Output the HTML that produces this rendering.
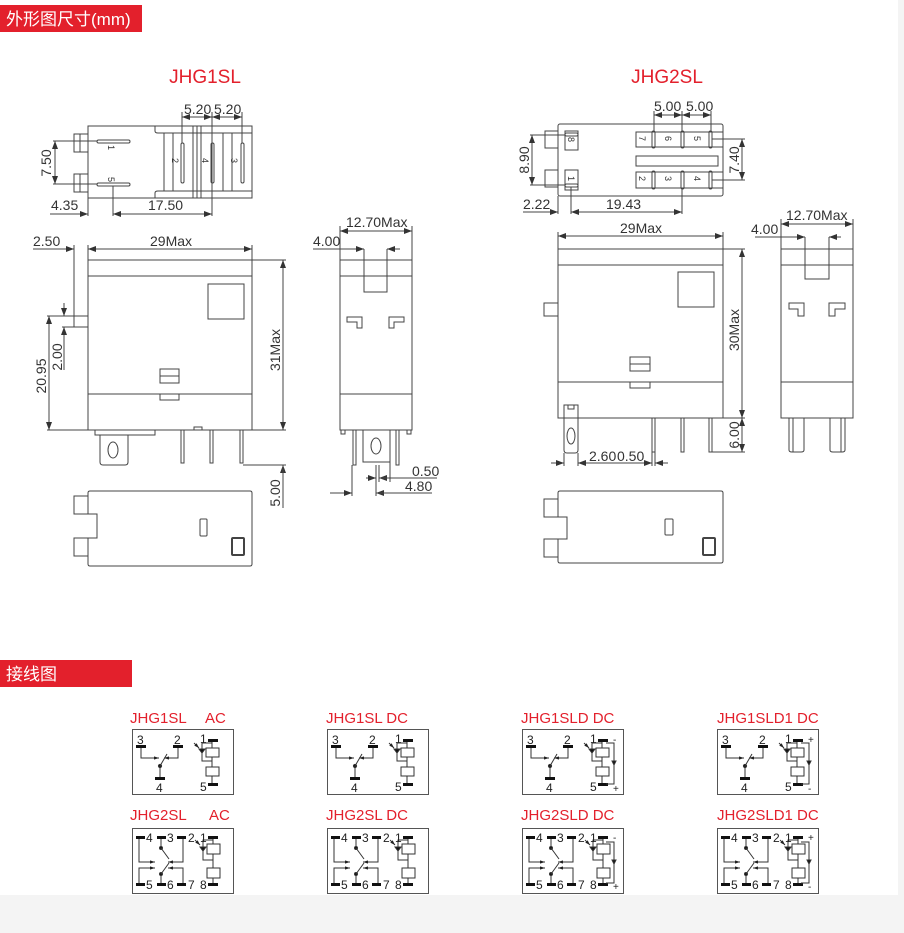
<!DOCTYPE html>
<html><head><meta charset="utf-8"><style>
html,body{margin:0;padding:0;background:#fff;}
body{width:904px;height:933px;overflow:hidden;position:relative;font-family:"Liberation Sans","Noto Sans CJK SC",sans-serif;}
svg{position:absolute;left:0;top:0;}
</style></head><body>
<svg width="904" height="933" viewBox="0 0 904 933" xmlns="http://www.w3.org/2000/svg" font-family="Liberation Sans, Noto Sans CJK SC, sans-serif">
<defs>
<marker id="ar" viewBox="0 0 8 6" refX="8" refY="3" markerWidth="8" markerHeight="6" markerUnits="userSpaceOnUse" orient="auto-start-reverse"><path d="M0,0 L8,3 L0,6 z" fill="#333"/></marker>
<marker id="sa" viewBox="0 0 6 4" refX="6" refY="2" markerWidth="5" markerHeight="4" markerUnits="userSpaceOnUse" orient="auto"><path d="M0,0 L6,2 L0,4 z" fill="#222"/></marker>
<g id="sw1" stroke="#333" stroke-width="1" fill="none">
 <rect x="0.5" y="0.5" width="101" height="65" stroke="#555"/>
 <rect x="4" y="16" width="10" height="3" fill="#111" stroke="none"/>
 <polyline points="9,19 9,29 27,29" marker-end="url(#sa)"/>
 <rect x="41" y="16" width="10" height="3" fill="#111" stroke="none"/>
 <polyline points="46,19 46,29 32,29" marker-end="url(#sa)"/>
 <circle cx="28" cy="37" r="1.6" fill="#111"/>
 <line x1="28" y1="37" x2="35" y2="25"/>
 <line x1="28" y1="37" x2="28" y2="48"/>
 <rect x="23" y="48" width="10" height="3" fill="#111" stroke="none"/>
 <line x1="80" y1="12" x2="80" y2="56"/>
 <rect x="74" y="19" width="13" height="9" fill="#fff"/>
 <rect x="74" y="38" width="13" height="9" fill="#fff"/>
 <rect x="76" y="10" width="10" height="3" fill="#111" stroke="none"/>
 <rect x="76" y="54" width="10" height="3" fill="#111" stroke="none"/>
 <polyline points="80,14 70,14 70,32 80,32"/>
 <path d="M67,20 L73,20 L70,24 z" fill="#111"/>
 <line x1="62" y1="14" x2="67" y2="19" marker-end="url(#sa)"/>
</g>
<g id="sw2" stroke="#333" stroke-width="1" fill="none">
 <rect x="0.5" y="0.5" width="101" height="65" stroke="#555"/>
 <rect x="4" y="8" width="9" height="3" fill="#111" stroke="none"/>
 <rect x="25" y="8" width="9" height="3" fill="#111" stroke="none"/>
 <rect x="45" y="8" width="9" height="3" fill="#111" stroke="none"/>
 <rect x="4" y="55" width="9" height="3" fill="#111" stroke="none"/>
 <rect x="25" y="55" width="9" height="3" fill="#111" stroke="none"/>
 <rect x="45" y="55" width="9" height="3" fill="#111" stroke="none"/>
 <polyline points="7,11 7,34 23,34" marker-end="url(#sa)"/>
 <line x1="29" y1="11" x2="29" y2="20"/><circle cx="29" cy="20" r="1.5" fill="#111"/>
 <line x1="29" y1="20" x2="37" y2="31"/>
 <polyline points="51,11 51,34 36,34" marker-end="url(#sa)"/>
 <polyline points="7,55 7,40 23,40" marker-end="url(#sa)"/>
 <line x1="29" y1="55" x2="29" y2="46"/><circle cx="29" cy="46" r="1.5" fill="#111"/>
 <line x1="29" y1="46" x2="37" y2="35"/>
 <polyline points="51,55 51,40 36,40" marker-end="url(#sa)"/>
 <line x1="81" y1="10" x2="81" y2="57"/>
 <rect x="75" y="16" width="13" height="10" fill="#fff"/>
 <rect x="75" y="40" width="13" height="10" fill="#fff"/>
 <rect x="76" y="8" width="10" height="3" fill="#111" stroke="none"/>
 <rect x="76" y="55" width="10" height="3" fill="#111" stroke="none"/>
 <polyline points="81,12 71,12 71,32 81,32"/>
 <path d="M68,19 L74,19 L71,23 z" fill="#111"/>
 <line x1="63" y1="12" x2="68" y2="17" marker-end="url(#sa)"/>
</g>
<g id="dio" stroke="#333" stroke-width="1" fill="none">
 <polyline points="84,14 92,14 92,55 84,55"/>
 <path d="M90,32 L94,32 L92,36 z" fill="#111"/>
</g>
</defs>

<rect x="0" y="895" width="904" height="38" fill="#f4f4f4"/>
<rect x="898" y="0" width="6" height="933" fill="#f4f4f4"/>

<rect x="0" y="5" width="142" height="27" fill="#e3202c"/>
<text x="6" y="25" font-size="17" fill="#fff">外形图尺寸(mm)</text>
<rect x="0" y="660" width="132" height="27" fill="#e3202c"/>
<text x="6" y="680" font-size="17" fill="#fff">接线图</text>

<g font-size="19" fill="#e3202c" text-anchor="middle">
<text x="205" y="83">JHG1SL</text>
<text x="667" y="83">JHG2SL</text>
</g>

<g stroke="#444" stroke-width="1" fill="none">
<path d="M88,126 H252 V198 H88 Z"/>
<rect x="74" y="134" width="14" height="18"/><rect x="74" y="174" width="14" height="18"/>
<line x1="80" y1="134" x2="80" y2="152"/><line x1="80" y1="174" x2="80" y2="192"/>
<path d="M155,126 V131 Q155,133 158,133 H252"/><path d="M155,198 V193 Q155,191 158,191 H252"/>
<line x1="164" y1="133" x2="164" y2="191"/><line x1="173" y1="133" x2="173" y2="191"/>
<line x1="193" y1="126" x2="193" y2="198"/><line x1="197" y1="126" x2="197" y2="198"/><line x1="201" y1="126" x2="201" y2="198"/>
<line x1="223" y1="133" x2="223" y2="191"/><line x1="232" y1="133" x2="232" y2="191"/>
<rect x="97" y="140" width="33" height="3" rx="1.5"/><rect x="97" y="183" width="33" height="3" rx="1.5"/>
<rect x="181" y="143" width="3" height="40" rx="1.5"/><rect x="211" y="143" width="3" height="40" rx="1.5"/><rect x="241" y="143" width="3" height="40" rx="1.5"/>
<line x1="182" y1="112" x2="182" y2="143"/><line x1="212" y1="112" x2="212" y2="216"/><line x1="242" y1="112" x2="242" y2="143"/>
<line x1="182" y1="117" x2="212" y2="117" marker-start="url(#ar)" marker-end="url(#ar)"/>
<line x1="212" y1="117" x2="242" y2="117" marker-start="url(#ar)" marker-end="url(#ar)"/>
<line x1="53" y1="141" x2="97" y2="141"/><line x1="53" y1="184" x2="97" y2="184"/>
<line x1="55" y1="141" x2="55" y2="184" marker-start="url(#ar)" marker-end="url(#ar)"/>
<line x1="88" y1="198" x2="88" y2="216"/><line x1="113" y1="186" x2="113" y2="216"/>
<line x1="50" y1="214" x2="88" y2="214" marker-end="url(#ar)"/>
<line x1="113" y1="214" x2="212" y2="214" marker-start="url(#ar)" marker-end="url(#ar)"/>

<line x1="33" y1="249" x2="74" y2="249" marker-end="url(#ar)"/>
<line x1="74" y1="245" x2="74" y2="316"/><line x1="88" y1="245" x2="88" y2="260"/><line x1="252" y1="245" x2="252" y2="260"/>
<line x1="88" y1="249" x2="252" y2="249" marker-start="url(#ar)" marker-end="url(#ar)"/>
<rect x="88" y="260" width="164" height="170"/>
<line x1="88" y1="276" x2="252" y2="276"/><line x1="88" y1="394" x2="252" y2="394"/>
<rect x="208" y="284" width="36" height="35"/>
<rect x="160" y="369" width="19" height="14"/><line x1="160" y1="376" x2="179" y2="376"/>
<rect x="160" y="394" width="19" height="6"/>
<rect x="74" y="316" width="14" height="11"/>
<path d="M95,430 V435 H155 V430"/>
<path d="M100,435 V462 Q100,465 103,465 H125 Q128,465 128,462 V435"/>
<ellipse cx="113" cy="450" rx="5" ry="8"/>
<path d="M194,430 V427 H202 V430"/>
<rect x="181" y="430" width="3" height="33"/><rect x="210" y="430" width="3" height="33"/><rect x="240" y="430" width="3" height="33"/>
<line x1="252" y1="260" x2="286" y2="260"/><line x1="252" y1="430" x2="286" y2="430"/><line x1="243" y1="465" x2="286" y2="465"/>
<line x1="283" y1="260" x2="283" y2="430" marker-start="url(#ar)" marker-end="url(#ar)"/>
<line x1="283" y1="480" x2="283" y2="465" marker-end="url(#ar)"/>
<line x1="283" y1="465" x2="283" y2="508"/>
<line x1="47" y1="316" x2="74" y2="316"/><line x1="47" y1="430" x2="88" y2="430"/>
<line x1="49" y1="316" x2="49" y2="430" marker-start="url(#ar)" marker-end="url(#ar)"/>
<line x1="62" y1="316" x2="74" y2="316"/><line x1="62" y1="327" x2="74" y2="327"/>
<line x1="64" y1="303" x2="64" y2="316" marker-end="url(#ar)"/>
<line x1="64" y1="370" x2="64" y2="327" marker-end="url(#ar)"/>

<path d="M90,491 H250 Q252,491 252,493 V564 Q252,566 250,566 H90 Q88,566 88,564 V538 H97 V514 H88 V493 Q88,491 90,491 Z"/>
<path d="M88,496 H74 V514 H88"/><path d="M88,538 H74 V556 H88"/>
<rect x="200" y="519" width="7" height="17" rx="1"/>
<rect x="232" y="538" width="12" height="17" rx="1" stroke-width="2"/>

<line x1="340" y1="226" x2="340" y2="260"/><line x1="412" y1="226" x2="412" y2="260"/>
<line x1="340" y1="231" x2="412" y2="231" marker-start="url(#ar)" marker-end="url(#ar)"/>
<line x1="313" y1="249" x2="364" y2="249" marker-end="url(#ar)"/>
<line x1="400" y1="249" x2="387" y2="249" marker-end="url(#ar)"/>
<rect x="340" y="260" width="72" height="170"/>
<line x1="340" y1="276" x2="412" y2="276"/><line x1="340" y1="394" x2="412" y2="394"/>
<path d="M364,249 V292 H387 V249"/>
<path d="M347,317 H362 V328 H357 V322 H347 Z"/><path d="M389,317 H404 V322 H394 V328 H389 Z"/>
<path d="M341,430 V434 H345 V430"/><path d="M407,430 V434 H411 V430"/>
<rect x="353" y="430" width="3" height="35"/><rect x="396" y="430" width="3" height="35"/>
<path d="M363,430 V462 H390 V430"/><ellipse cx="376" cy="446" rx="5" ry="8"/>
<line x1="352" y1="465" x2="352" y2="496"/><line x1="376" y1="465" x2="376" y2="496"/><line x1="379" y1="465" x2="379" y2="482"/><line x1="390" y1="462" x2="390" y2="482"/>
<line x1="366" y1="478" x2="376" y2="478" marker-end="url(#ar)"/><line x1="389" y1="478" x2="379" y2="478" marker-end="url(#ar)"/><line x1="379" y1="478" x2="437" y2="478"/>
<line x1="330" y1="493" x2="352" y2="493" marker-end="url(#ar)"/><line x1="390" y1="493" x2="376" y2="493" marker-end="url(#ar)"/><line x1="376" y1="493" x2="432" y2="493"/>

<rect x="558" y="124" width="165" height="72" rx="2"/>
<rect x="545" y="131" width="13" height="17"/><rect x="545" y="170" width="13" height="17"/>
<rect x="565" y="131" width="13" height="19"/><rect x="565" y="170" width="13" height="20"/>
<rect x="565" y="133" width="13" height="3" rx="1.5"/><rect x="565" y="184" width="13" height="3" rx="1.5"/>
<rect x="636" y="132" width="87" height="15"/><rect x="636" y="172" width="87" height="16"/>
<rect x="636" y="156" width="82" height="10"/>
<rect x="652" y="131" width="3" height="17" rx="1.5"/><rect x="681" y="131" width="3" height="17" rx="1.5"/><rect x="709" y="131" width="3" height="17" rx="1.5"/>
<rect x="652" y="171" width="3" height="18" rx="1.5"/><rect x="681" y="171" width="3" height="18" rx="1.5"/><rect x="709" y="171" width="3" height="18" rx="1.5"/>
<line x1="654" y1="111" x2="654" y2="131"/><line x1="682" y1="111" x2="682" y2="131"/><line x1="711" y1="111" x2="711" y2="131"/>
<line x1="654" y1="115" x2="682" y2="115" marker-start="url(#ar)" marker-end="url(#ar)"/>
<line x1="682" y1="115" x2="711" y2="115" marker-start="url(#ar)" marker-end="url(#ar)"/>
<line x1="530" y1="135" x2="565" y2="135"/><line x1="530" y1="185" x2="565" y2="185"/>
<line x1="532" y1="135" x2="532" y2="185" marker-start="url(#ar)" marker-end="url(#ar)"/>
<line x1="712" y1="139" x2="745" y2="139"/><line x1="712" y1="180" x2="745" y2="180"/>
<line x1="742" y1="139" x2="742" y2="180" marker-start="url(#ar)" marker-end="url(#ar)"/>
<line x1="558" y1="196" x2="558" y2="214"/><line x1="571" y1="187" x2="571" y2="214"/><line x1="682" y1="189" x2="682" y2="214"/>
<line x1="523" y1="212" x2="558" y2="212" marker-end="url(#ar)"/>
<line x1="571" y1="212" x2="682" y2="212" marker-start="url(#ar)" marker-end="url(#ar)"/>

<line x1="558" y1="232" x2="558" y2="249"/><line x1="723" y1="232" x2="723" y2="249"/>
<line x1="558" y1="236" x2="723" y2="236" marker-start="url(#ar)" marker-end="url(#ar)"/>
<rect x="558" y="249" width="165" height="169"/>
<line x1="558" y1="265" x2="723" y2="265"/><line x1="558" y1="382" x2="723" y2="382"/>
<rect x="678" y="272" width="36" height="35"/>
<rect x="630" y="357" width="20" height="14"/><line x1="630" y1="364" x2="650" y2="364"/>
<rect x="630" y="382" width="20" height="6"/>
<rect x="544" y="303" width="14" height="13"/>
<path d="M564,418 V405 H578 V418"/><rect x="568" y="405" width="6" height="4"/>
<path d="M564,418 V450 Q564,453 567,453 H575 Q578,453 578,450 V418"/>
<ellipse cx="571" cy="436" rx="4" ry="8"/>
<rect x="652" y="418" width="3" height="34"/><rect x="681" y="418" width="3" height="34"/><rect x="709" y="418" width="3" height="34"/>
<line x1="723" y1="249" x2="745" y2="249"/><line x1="723" y1="418" x2="745" y2="418"/><line x1="711" y1="452" x2="745" y2="452"/>
<line x1="742" y1="249" x2="742" y2="418" marker-start="url(#ar)" marker-end="url(#ar)"/>
<line x1="742" y1="418" x2="742" y2="452" marker-start="url(#ar)" marker-end="url(#ar)"/>
<line x1="564" y1="453" x2="564" y2="466"/><line x1="578" y1="453" x2="578" y2="466"/><line x1="652" y1="452" x2="652" y2="466"/><line x1="655" y1="452" x2="655" y2="466"/>
<line x1="551" y1="463" x2="564" y2="463" marker-end="url(#ar)"/>
<line x1="578" y1="463" x2="652" y2="463" marker-start="url(#ar)" marker-end="url(#ar)"/>
<line x1="668" y1="463" x2="655" y2="463" marker-end="url(#ar)"/>

<path d="M560,491 H721 Q723,491 723,493 V561 Q723,563 721,563 H560 Q558,563 558,561 V539 H567 V517 H558 V493 Q558,491 560,491 Z"/>
<path d="M558,499 H544 V517 H558"/><path d="M558,539 H544 V557 H558"/>
<rect x="665" y="519" width="8" height="16" rx="1"/>
<rect x="703" y="538" width="12" height="17" rx="1" stroke-width="2"/>

<line x1="781" y1="219" x2="781" y2="249"/><line x1="853" y1="219" x2="853" y2="249"/>
<line x1="781" y1="224" x2="853" y2="224" marker-start="url(#ar)" marker-end="url(#ar)"/>
<line x1="755" y1="237" x2="805" y2="237" marker-end="url(#ar)"/>
<line x1="841" y1="237" x2="829" y2="237" marker-end="url(#ar)"/>
<rect x="781" y="249" width="72" height="169"/>
<line x1="781" y1="265" x2="853" y2="265"/><line x1="781" y1="382" x2="853" y2="382"/>
<path d="M805,237 V279 H829 V237"/>
<path d="M789,303 H804 V316 H798 V309 H789 Z"/><path d="M829,303 H845 V309 H835 V316 H829 Z"/>
<path d="M789,418 V450 Q789,452 792,452 H801 Q804,452 804,450 V418"/><line x1="793" y1="418" x2="793" y2="452"/>
<path d="M830,418 V450 Q830,452 833,452 H842 Q845,452 845,450 V418"/><line x1="841" y1="418" x2="841" y2="452"/>
</g>

<g font-size="14" fill="#333">
<text x="184" y="114">5.20</text><text x="214" y="114">5.20</text>
<text x="51" y="210">4.35</text><text x="148" y="210">17.50</text>
<text x="33" y="246">2.50</text><text x="150" y="246">29Max</text>
<text x="346" y="227">12.70Max</text><text x="313" y="246">4.00</text>
<text x="412" y="476">0.50</text><text x="405" y="491">4.80</text>
<text x="654" y="111">5.00</text><text x="686" y="111">5.00</text>
<text x="523" y="209">2.22</text><text x="606" y="209">19.43</text>
<text x="620" y="233">29Max</text>
<text x="786" y="220">12.70Max</text><text x="751" y="234">4.00</text>
<text x="589" y="461">2.60</text><text x="617" y="461">0.50</text>
<text transform="rotate(-90 51 163)" x="51" y="163" text-anchor="middle">7.50</text>
<text transform="rotate(-90 46 376)" x="46" y="376" text-anchor="middle">20.95</text>
<text transform="rotate(-90 62 357)" x="62" y="357" text-anchor="middle">2.00</text>
<text transform="rotate(-90 280 350)" x="280" y="350" text-anchor="middle">31Max</text>
<text transform="rotate(-90 280 493)" x="280" y="493" text-anchor="middle">5.00</text>
<text transform="rotate(-90 529 160)" x="529" y="160" text-anchor="middle">8.90</text>
<text transform="rotate(-90 739 160)" x="739" y="160" text-anchor="middle">7.40</text>
<text transform="rotate(-90 739 330)" x="739" y="330" text-anchor="middle">30Max</text>
<text transform="rotate(-90 739 435)" x="739" y="435" text-anchor="middle">6.00</text>
</g>
<g font-size="9" fill="#333">
<text transform="rotate(90 108 145)" x="108" y="145">1</text>
<text transform="rotate(90 108 177)" x="108" y="177">5</text>
<text transform="rotate(90 172 158)" x="172" y="158">2</text>
<text transform="rotate(90 202 158)" x="202" y="158">4</text>
<text transform="rotate(90 231 158)" x="231" y="158">3</text>
<text transform="rotate(90 568 137)" x="568" y="137">8</text>
<text transform="rotate(90 568 176)" x="568" y="176">1</text>
<text transform="rotate(90 639 136)" x="639" y="136">7</text>
<text transform="rotate(90 665 136)" x="665" y="136">6</text>
<text transform="rotate(90 694 136)" x="694" y="136">5</text>
<text transform="rotate(90 639 176)" x="639" y="176">2</text>
<text transform="rotate(90 665 176)" x="665" y="176">3</text>
<text transform="rotate(90 694 176)" x="694" y="176">4</text>
</g>

<g font-size="15" fill="#e3202c">
<text x="130" y="723">JHG1SL</text><text x="205" y="723">AC</text>
<text x="326" y="723">JHG1SL DC</text>
<text x="521" y="723">JHG1SLD DC</text>
<text x="717" y="723">JHG1SLD1 DC</text>
<text x="130" y="820">JHG2SL</text><text x="209" y="820">AC</text>
<text x="326" y="820">JHG2SL DC</text>
<text x="521" y="820">JHG2SLD DC</text>
<text x="717" y="820">JHG2SLD1 DC</text>
</g>

<use href="#sw1" x="132" y="729"/><use href="#sw1" x="327" y="729"/><use href="#sw1" x="522" y="729"/><use href="#sw1" x="717" y="729"/>
<use href="#sw2" x="132" y="828"/><use href="#sw2" x="327" y="828"/><use href="#sw2" x="522" y="828"/><use href="#sw2" x="717" y="828"/>
<use href="#dio" x="522" y="729"/><use href="#dio" x="717" y="729"/><use href="#dio" x="522" y="828"/><use href="#dio" x="717" y="828"/>

<g font-size="12" fill="#222">
<g transform="translate(132,729)"><text x="5" y="15">3</text><text x="42" y="15">2</text><text x="24" y="63">4</text><text x="68" y="14">1</text><text x="68" y="62">5</text></g>
<g transform="translate(327,729)"><text x="5" y="15">3</text><text x="42" y="15">2</text><text x="24" y="63">4</text><text x="68" y="14">1</text><text x="68" y="62">5</text></g>
<g transform="translate(522,729)"><text x="5" y="15">3</text><text x="42" y="15">2</text><text x="24" y="63">4</text><text x="68" y="14">1</text><text x="68" y="62">5</text><text x="91" y="14" font-size="10">-</text><text x="91" y="63" font-size="10">+</text></g>
<g transform="translate(717,729)"><text x="5" y="15">3</text><text x="42" y="15">2</text><text x="24" y="63">4</text><text x="68" y="14">1</text><text x="68" y="62">5</text><text x="91" y="14" font-size="10">+</text><text x="91" y="63" font-size="10">-</text></g>
<g transform="translate(132,828)"><text x="14" y="14">4</text><text x="35" y="14">3</text><text x="56" y="14">2</text><text x="68" y="14">1</text><text x="14" y="61">5</text><text x="35" y="61">6</text><text x="56" y="61">7</text><text x="68" y="61">8</text></g>
<g transform="translate(327,828)"><text x="14" y="14">4</text><text x="35" y="14">3</text><text x="56" y="14">2</text><text x="68" y="14">1</text><text x="14" y="61">5</text><text x="35" y="61">6</text><text x="56" y="61">7</text><text x="68" y="61">8</text></g>
<g transform="translate(522,828)"><text x="14" y="14">4</text><text x="35" y="14">3</text><text x="56" y="14">2</text><text x="68" y="14">1</text><text x="14" y="61">5</text><text x="35" y="61">6</text><text x="56" y="61">7</text><text x="68" y="61">8</text><text x="91" y="13" font-size="10">-</text><text x="91" y="62" font-size="10">+</text></g>
<g transform="translate(717,828)"><text x="14" y="14">4</text><text x="35" y="14">3</text><text x="56" y="14">2</text><text x="68" y="14">1</text><text x="14" y="61">5</text><text x="35" y="61">6</text><text x="56" y="61">7</text><text x="68" y="61">8</text><text x="91" y="13" font-size="10">+</text><text x="91" y="62" font-size="10">-</text></g>
</g>
</svg>
</body></html>
